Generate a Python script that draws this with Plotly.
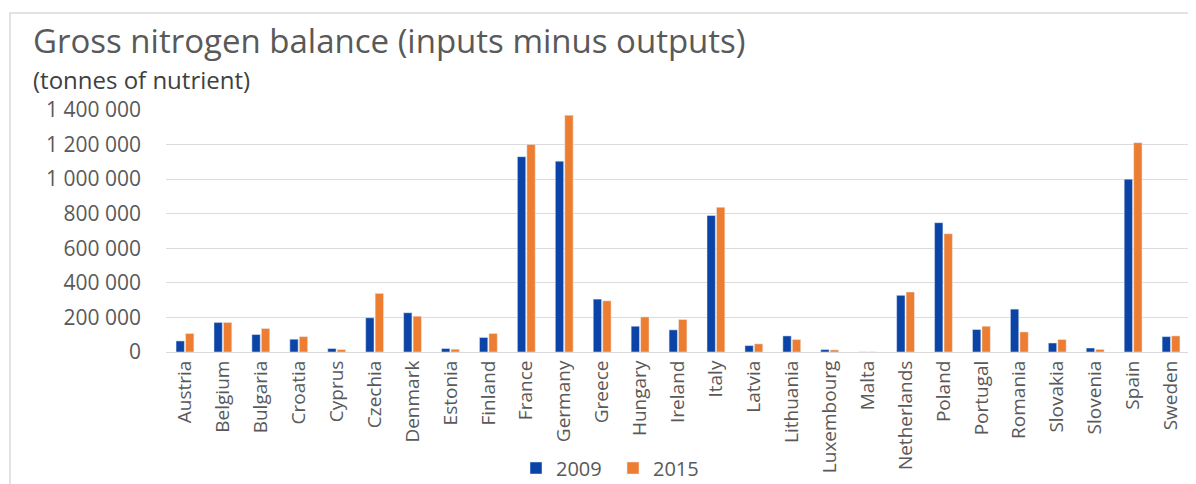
import plotly.graph_objects as go

countries = ["Austria", "Belgium", "Bulgaria", "Croatia", "Cyprus", "Czechia", "Denmark",
             "Estonia", "Finland", "France", "Germany", "Greece", "Hungary", "Ireland",
             "Italy", "Latvia", "Lithuania", "Luxembourg", "Malta", "Netherlands", "Poland",
             "Portugal", "Romania", "Slovakia", "Slovenia", "Spain", "Sweden"]
values_2009 = [64000, 171000, 101000, 74000, 20000, 198000, 227000,
               20000, 84000, 1130000, 1104000, 306000, 149000, 128000,
               790000, 37000, 93000, 14000, 500, 328000, 748000,
               130000, 248000, 52000, 23000, 1000000, 89000]
values_2015 = [107000, 171000, 136000, 89000, 14000, 339000, 207000,
               16000, 107000, 1201000, 1370000, 296000, 203000, 188000,
               837000, 47000, 72000, 12000, 500, 347000, 684000,
               149000, 116000, 72000, 15000, 1211000, 93000]
y_ticks = [0, 200000, 400000, 600000, 800000, 1000000, 1200000, 1400000]

BLUE = "#0B44A6"
ORANGE = "#ED7D31"
GREY = "#595959"
FONT = "Open Sans"

fig = go.Figure()
fig.add_trace(go.Bar(x=countries, y=values_2009, name="2009", marker_color=BLUE))
fig.add_trace(go.Bar(x=countries, y=values_2015, name="2015", marker_color=ORANGE))

# page body has an 8px default margin, so the figure is drawn 8px in from the top-left
OFF = 8
W, H = 1196 - OFF, 484 - OFF
L, R, T, B = 166 - OFF, 6, 110 - OFF, 484 - 352
pw, ph = W - L - R, H - T - B

def px(x):
    return (x - OFF - L) / pw

def py(y):
    return (H - B - (y - OFF)) / ph

fig.update_layout(
    width=W, height=H,
    margin=dict(l=L, r=R, t=T, b=B, autoexpand=False),
    paper_bgcolor="white", plot_bgcolor="white",
    separators=". ",
    barmode="group", bargap=0.5, bargroupgap=0.12,
    font=dict(family=FONT, color=GREY),
    showlegend=True,
    legend=dict(orientation="h", x=px(613), xanchor="center", y=py(468), yanchor="middle",
                font=dict(size=20, color=GREY), traceorder="normal",
                itemwidth=30, entrywidth=52),
    xaxis=dict(tickangle=-90, tickfont=dict(size=19, color=GREY), showgrid=False,
               showline=True, linecolor="#d9d9d9", linewidth=1, ticks="", automargin=False),
    yaxis=dict(range=[0, 1400000], tickvals=y_ticks, tickformat=",d",
               tickfont=dict(size=21, color=GREY), gridcolor="#dcdcdc", gridwidth=1,
               zeroline=False, showline=False, ticks="", ticklabelstandoff=24, automargin=False),
    annotations=[
        dict(text="Gross nitrogen balance (inputs minus outputs)", xref="paper", yref="paper",
             x=px(32), y=py(41), xanchor="left", yanchor="middle", showarrow=False,
             borderpad=0, font=dict(size=33, color=GREY, family=FONT)),
        dict(text="(tonnes of nutrient)", xref="paper", yref="paper",
             x=px(32), y=py(79), xanchor="left", yanchor="middle", showarrow=False,
             borderpad=0, font=dict(size=24, color="#404040", family=FONT)),
    ],
    shapes=[
        dict(type="rect", xref="paper", yref="paper", x0=px(10), y0=py(500), x1=px(1210), y1=py(13),
             line=dict(color="#d9d9d9", width=1.5), fillcolor="rgba(0,0,0,0)", layer="below"),
    ],
)

fig.write_html("out.html")
